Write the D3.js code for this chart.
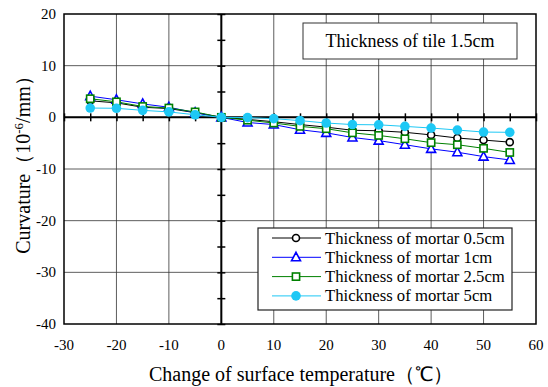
<!DOCTYPE html>
<html>
<head>
<meta charset="utf-8">
<script src="https://cdn.jsdelivr.net/npm/d3@7"></script>
<style>
  body { margin: 0; background: #fff; }
  svg { display: block; font-family: "Liberation Serif", "Times New Roman", serif; }
</style>
</head>
<body>
<svg id="chart" width="548" height="387"></svg>
<script>
const temps = [-25, -20, -15, -10, -5, 0, 5, 10, 15, 20, 25, 30, 35, 40, 45, 50, 55]
const mortar05 = [3.2, 2.8, 1.95, 1.7, 0.9, 0, -0.4, -0.85, -1.4, -1.9, -2.5, -2.6, -2.9, -3.4, -4.0, -4.4, -4.8]
const mortar1 = [4.1, 3.4, 2.6, 1.95, 0.9, 0, -1.0, -1.4, -2.4, -3.0, -3.9, -4.5, -5.3, -6.1, -6.75, -7.6, -8.25]
const mortar25 = [3.6, 3.0, 2.1, 1.8, 1.05, 0, -0.55, -1.1, -1.75, -2.2, -3.0, -3.5, -4.15, -4.9, -5.3, -6.0, -6.8]
const mortar5 = [1.8, 1.75, 1.35, 1.05, 0.5, 0, -0.05, -0.25, -0.64, -1.1, -1.4, -1.45, -1.75, -2.07, -2.46, -2.85, -2.9]
const seriesNames = ['Thickness of mortar 0.5cm', 'Thickness of mortar 1cm', 'Thickness of mortar 2.5cm', 'Thickness of mortar 5cm']
const xTicks = [-30, -20, -10, 0, 10, 20, 30, 40, 50, 60]
const yTicks = [-40, -30, -20, -10, 0, 10, 20]

const svg = d3.select('#chart')
const margin = {left: 64, right: 12, top: 14, bottom: 63}
const width = 548, height = 387

const x = d3.scaleLinear().domain([-30, 60]).range([margin.left, width - margin.right])
const y = d3.scaleLinear().domain([-40, 20]).range([height - margin.bottom, margin.top])

// grid
const grid = svg.append('g')
grid.selectAll('.vg')
  .data(xTicks.slice(1, -1))
  .join('line')
  .attr('x1', d => x(d)).attr('x2', d => x(d))
  .attr('y1', y(20)).attr('y2', y(-40))
  .attr('stroke', '#333').attr('stroke-width', 0.8)
grid.selectAll('.hg')
  .data(yTicks.slice(1, -1))
  .join('line')
  .attr('x1', x(-30)).attr('x2', x(60))
  .attr('y1', d => y(d)).attr('y2', d => y(d))
  .attr('stroke', '#333').attr('stroke-width', 0.8)

// zero axes with crossing ticks every 5
const xAxis = d3.axisBottom(x).tickValues(d3.range(-30, 61, 5)).tickSize(8).tickFormat('')
svg.append('g')
  .attr('transform', `translate(0, ${y(0) - 4})`)
  .call(xAxis)
  .call(g => g.select('.domain').remove())
  .call(g => g.selectAll('.tick line').attr('stroke-width', 1.5))
svg.append('line')
  .attr('x1', x(-30)).attr('x2', x(60)).attr('y1', y(0)).attr('y2', y(0))
  .attr('stroke', '#000').attr('stroke-width', 2)

const yAxis = d3.axisLeft(y).tickValues(d3.range(-40, 21, 5)).tickSize(8).tickFormat('')
svg.append('g')
  .attr('transform', `translate(${x(0) + 4}, 0)`)
  .call(yAxis)
  .call(g => g.select('.domain').remove())
  .call(g => g.selectAll('.tick line').attr('stroke-width', 1.5))
svg.append('line')
  .attr('x1', x(0)).attr('x2', x(0)).attr('y1', y(20)).attr('y2', y(-40))
  .attr('stroke', '#000').attr('stroke-width', 2)

// frame
svg.append('rect')
  .attr('x', x(-30)).attr('y', y(20))
  .attr('width', x(60) - x(-30)).attr('height', y(-40) - y(20))
  .attr('fill', 'none').attr('stroke', '#000').attr('stroke-width', 1.5)

// tick labels
svg.append('g')
  .selectAll('text')
  .data(xTicks)
  .join('text')
  .attr('x', d => x(d)).attr('y', y(-40) + 26)
  .attr('text-anchor', 'middle')
  .attr('font-size', 15)
  .text(d => d)
svg.append('g')
  .selectAll('text')
  .data(yTicks)
  .join('text')
  .attr('x', x(-30) - 8).attr('y', d => y(d) + 5)
  .attr('text-anchor', 'end')
  .attr('font-size', 15)
  .text(d => d)

// axis titles
svg.append('text')
  .attr('x', 301).attr('y', 381)
  .attr('text-anchor', 'middle')
  .attr('font-size', 20)
  .text('Change of surface temperature（℃）')
const yt = svg.append('text')
  .attr('transform', 'translate(30, 160) rotate(-90)')
  .attr('text-anchor', 'middle')
  .attr('font-size', 20)
yt.append('tspan').text('Curvature（10')
yt.append('tspan').attr('baseline-shift', 'super').attr('font-size', 13).text('-6')
yt.append('tspan').text('/mm）')

// series
const series = [
  {name: seriesNames[0], values: mortar05, color: '#000000', marker: 'circle'},
  {name: seriesNames[1], values: mortar1, color: '#0000ff', marker: 'triangle'},
  {name: seriesNames[2], values: mortar25, color: '#008000', marker: 'square'},
  {name: seriesNames[3], values: mortar5, color: '#1ec8f5', marker: 'dot'}
]

function drawMarker(g, type, color) {
  if (type === 'circle') {
    g.append('circle').attr('r', 3.5).attr('fill', '#fff').attr('stroke', color).attr('stroke-width', 1.6)
  } else if (type === 'triangle') {
    g.append('path').attr('d', 'M0,-5L4.5,3.5L-4.5,3.5Z').attr('fill', '#fff').attr('stroke', color).attr('stroke-width', 1.6)
  } else if (type === 'square') {
    g.append('rect').attr('x', -3.6).attr('y', -3.6).attr('width', 7.2).attr('height', 7.2)
      .attr('fill', '#fff').attr('stroke', color).attr('stroke-width', 1.6)
  } else {
    g.append('circle').attr('r', 4.8).attr('fill', color)
  }
}

const line = d3.line().x(d => x(d[0])).y(d => y(d[1]))
series.forEach(s => {
  const pts = temps.map((t, i) => [t, s.values[i]])
  const g = svg.append('g')
  g.append('path').datum(pts).attr('d', line).attr('fill', 'none').attr('stroke', s.color).attr('stroke-width', 1)
  g.selectAll('g.m')
    .data(pts)
    .join('g')
    .attr('transform', d => `translate(${x(d[0])}, ${y(d[1])})`)
    .each(function() { drawMarker(d3.select(this), s.marker, s.color) })
})

// title box
svg.append('rect')
  .attr('x', 303).attr('y', 23).attr('width', 214).attr('height', 36)
  .attr('fill', '#fff').attr('stroke', '#333').attr('stroke-width', 1)
svg.append('text')
  .attr('x', 410).attr('y', 47)
  .attr('text-anchor', 'middle')
  .attr('font-size', 18)
  .text('Thickness of tile 1.5cm')

// legend
const legend = svg.append('g')
legend.append('rect')
  .attr('x', 258).attr('y', 228).attr('width', 254).attr('height', 82)
  .attr('fill', '#fff').attr('stroke', '#222').attr('stroke-width', 1.2)
series.forEach((s, i) => {
  const ly = 238 + i * 19.3
  legend.append('line')
    .attr('x1', 272).attr('x2', 321).attr('y1', ly).attr('y2', ly)
    .attr('stroke', s.color).attr('stroke-width', 1)
  const m = legend.append('g').attr('transform', `translate(296, ${ly})`)
  drawMarker(m, s.marker, s.color)
  legend.append('text')
    .attr('x', 325).attr('y', ly + 5.5)
    .attr('font-size', 16.7)
    .text(s.name)
})
</script>
</body>
</html>
